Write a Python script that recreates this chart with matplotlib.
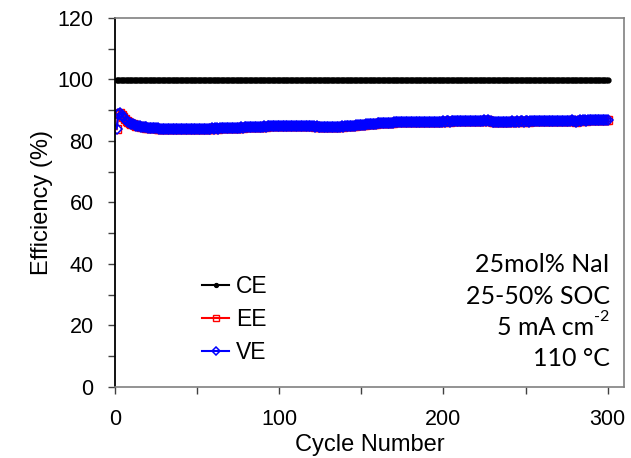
import matplotlib
matplotlib.use('Agg')
import matplotlib.pyplot as plt
from matplotlib.ticker import MultipleLocator

# cycle-by-cycle efficiencies (%)
cycles = list(range(1, 301))

ce = [
    99.9, 99.9, 99.9, 99.9, 99.9, 99.9, 99.9, 99.9, 99.9, 99.9,
    99.9, 99.9, 99.9, 99.9, 99.9, 99.9, 99.9, 99.9, 99.9, 99.9,
    99.9, 99.9, 99.9, 99.9, 99.9, 99.9, 99.9, 99.9, 99.9, 99.9,
    99.9, 99.9, 99.9, 99.9, 99.9, 99.9, 99.9, 99.9, 99.9, 99.9,
    99.9, 99.9, 99.9, 99.9, 99.9, 99.9, 99.9, 99.9, 99.9, 99.9,
    99.9, 99.9, 99.9, 99.9, 99.9, 99.9, 99.9, 99.9, 99.9, 99.9,
    99.9, 99.9, 99.9, 99.9, 99.9, 99.9, 99.9, 99.9, 99.9, 99.9,
    99.9, 99.9, 99.9, 99.9, 99.9, 99.9, 99.9, 99.9, 99.9, 99.9,
    99.9, 99.9, 99.9, 99.9, 99.9, 99.9, 99.9, 99.9, 99.9, 99.9,
    99.9, 99.9, 99.9, 99.9, 99.9, 99.9, 99.9, 99.9, 99.9, 99.9,
    99.9, 99.9, 99.9, 99.9, 99.9, 99.9, 99.9, 99.9, 99.9, 99.9,
    99.9, 99.9, 99.9, 99.9, 99.9, 99.9, 99.9, 99.9, 99.9, 99.9,
    99.9, 99.9, 99.9, 99.9, 99.9, 99.9, 99.9, 99.9, 99.9, 99.9,
    99.9, 99.9, 99.9, 99.9, 99.9, 99.9, 99.9, 99.9, 99.9, 99.9,
    99.9, 99.9, 99.9, 99.9, 99.9, 99.9, 99.9, 99.9, 99.9, 99.9,
    99.9, 99.9, 99.9, 99.9, 99.9, 99.9, 99.9, 99.9, 99.9, 99.9,
    99.9, 99.9, 99.9, 99.9, 99.9, 99.9, 99.9, 99.9, 99.9, 99.9,
    99.9, 99.9, 99.9, 99.9, 99.9, 99.9, 99.9, 99.9, 99.9, 99.9,
    99.9, 99.9, 99.9, 99.9, 99.9, 99.9, 99.9, 99.9, 99.9, 99.9,
    99.9, 99.9, 99.9, 99.9, 99.9, 99.9, 99.9, 99.9, 99.9, 99.9,
    99.9, 99.9, 99.9, 99.9, 99.9, 99.9, 99.9, 99.9, 99.9, 99.9,
    99.9, 99.9, 99.9, 99.9, 99.9, 99.9, 99.9, 99.9, 99.9, 99.9,
    99.9, 99.9, 99.9, 99.9, 99.9, 99.9, 99.9, 99.9, 99.9, 99.9,
    99.9, 99.9, 99.9, 99.9, 99.9, 99.9, 99.9, 99.9, 99.9, 99.9,
    99.9, 99.9, 99.9, 99.9, 99.9, 99.9, 99.9, 99.9, 99.9, 99.9,
    99.9, 99.9, 99.9, 99.9, 99.9, 99.9, 99.9, 99.9, 99.9, 99.9,
    99.9, 99.9, 99.9, 99.9, 99.9, 99.9, 99.9, 99.9, 99.9, 99.9,
    99.9, 99.9, 99.9, 99.9, 99.9, 99.9, 99.9, 99.9, 99.9, 99.9,
    99.9, 99.9, 99.9, 99.9, 99.9, 99.9, 99.9, 99.9, 99.9, 99.9,
    99.9, 99.9, 99.9, 99.9, 99.9, 99.9, 99.9, 99.9, 99.9, 99.9,
]

ve = [
    84.0, 88.8, 89.0, 88.4, 87.7, 87.1, 86.6, 86.2, 85.9, 85.6,
    85.4, 85.2, 85.0, 84.9, 84.7, 84.6, 84.5, 84.4, 84.4, 84.3,
    84.3, 84.2, 84.2, 84.1, 84.1, 84.1, 84.0, 84.0, 84.0, 84.0,
    84.0, 83.9, 84.0, 83.9, 83.9, 84.0, 83.9, 83.9, 83.9, 83.9,
    83.9, 83.8, 83.9, 83.9, 83.8, 83.9, 83.9, 83.9, 84.0, 83.9,
    83.9, 84.0, 84.0, 83.9, 84.0, 84.0, 84.0, 84.0, 84.1, 84.0,
    84.1, 84.1, 84.0, 84.1, 84.1, 84.2, 84.1, 84.2, 84.2, 84.2,
    84.2, 84.3, 84.2, 84.3, 84.3, 84.3, 84.4, 84.3, 84.4, 84.4,
    84.4, 84.5, 84.4, 84.5, 84.5, 84.6, 84.5, 84.6, 84.6, 84.6,
    84.7, 84.6, 84.7, 84.7, 84.8, 84.7, 84.8, 84.8, 84.8, 84.9,
    84.8, 84.9, 84.9, 84.8, 84.9, 84.9, 84.9, 84.8, 84.9, 84.9,
    84.8, 84.9, 84.8, 84.8, 84.9, 84.8, 84.8, 84.7, 84.8, 84.7,
    84.7, 84.6, 84.7, 84.6, 84.6, 84.5, 84.6, 84.5, 84.4, 84.5,
    84.4, 84.5, 84.4, 84.5, 84.5, 84.6, 84.6, 84.7, 84.6, 84.7,
    84.8, 84.8, 84.9, 84.9, 85.0, 85.0, 85.1, 85.1, 85.2, 85.2,
    85.3, 85.3, 85.4, 85.4, 85.5, 85.5, 85.5, 85.6, 85.6, 85.7,
    85.7, 85.7, 85.8, 85.8, 85.8, 85.9, 85.9, 85.9, 85.9, 86.0,
    86.0, 86.0, 86.0, 86.0, 86.1, 86.0, 86.1, 86.1, 86.1, 86.1,
    86.1, 86.2, 86.1, 86.2, 86.2, 86.2, 86.2, 86.2, 86.3, 86.2,
    86.3, 86.2, 86.3, 86.3, 86.3, 86.2, 86.3, 86.3, 86.3, 86.4,
    86.3, 86.4, 86.4, 86.3, 86.4, 86.4, 86.4, 86.5, 86.4, 86.4,
    86.5, 86.4, 86.5, 86.5, 86.5, 86.4, 86.5, 86.6, 86.5, 86.5,
    86.6, 86.5, 86.6, 86.6, 86.7, 86.6, 86.8, 86.6, 86.5, 86.3,
    86.2, 86.3, 86.2, 86.3, 86.3, 86.2, 86.3, 86.3, 86.2, 86.3,
    86.3, 86.4, 86.3, 86.3, 86.4, 86.3, 86.4, 86.4, 86.3, 86.4,
    86.4, 86.3, 86.4, 86.4, 86.5, 86.4, 86.4, 86.5, 86.4, 86.5,
    86.5, 86.4, 86.5, 86.5, 86.5, 86.6, 86.5, 86.5, 86.6, 86.5,
    86.6, 86.5, 86.6, 86.6, 86.5, 86.6, 86.6, 86.7, 86.6, 86.6,
    86.3, 86.6, 86.7, 86.6, 86.7, 86.7, 86.6, 86.7, 86.7, 86.8,
    86.7, 86.7, 86.8, 86.7, 86.8, 86.8, 86.7, 86.8, 86.8, 86.8,
]

ee = [
    83.8, 88.9, 89.1, 88.5, 87.7, 87.1, 86.6, 86.2, 85.9, 85.6,
    85.4, 85.2, 85.0, 84.9, 84.7, 84.6, 84.5, 84.4, 84.3, 84.3,
    84.3, 84.2, 84.2, 84.1, 84.1, 84.0, 84.0, 84.0, 84.0, 84.0,
    84.0, 83.9, 83.9, 83.9, 83.9, 84.0, 83.9, 83.9, 83.9, 83.9,
    83.9, 83.8, 83.9, 83.8, 83.8, 83.9, 83.9, 83.9, 83.9, 83.9,
    83.9, 84.0, 84.0, 83.9, 84.0, 84.0, 83.9, 84.0, 84.1, 84.0,
    84.1, 84.1, 84.0, 84.1, 84.1, 84.1, 84.1, 84.2, 84.2, 84.2,
    84.2, 84.3, 84.2, 84.3, 84.2, 84.3, 84.4, 84.3, 84.4, 84.4,
    84.4, 84.5, 84.4, 84.5, 84.5, 84.5, 84.5, 84.6, 84.6, 84.6,
    84.7, 84.6, 84.7, 84.7, 84.7, 84.7, 84.8, 84.8, 84.8, 84.8,
    84.8, 84.9, 84.9, 84.8, 84.9, 84.9, 84.8, 84.8, 84.9, 84.9,
    84.8, 84.9, 84.8, 84.8, 84.8, 84.8, 84.8, 84.7, 84.8, 84.7,
    84.7, 84.6, 84.7, 84.6, 84.6, 84.5, 84.6, 84.5, 84.4, 84.5,
    84.4, 84.5, 84.4, 84.5, 84.5, 84.6, 84.6, 84.7, 84.6, 84.7,
    84.8, 84.8, 84.9, 84.9, 85.0, 85.0, 85.1, 85.1, 85.1, 85.2,
    85.3, 85.3, 85.4, 85.4, 85.5, 85.5, 85.5, 85.6, 85.6, 85.7,
    85.7, 85.7, 85.8, 85.8, 85.8, 85.9, 85.9, 85.9, 85.9, 86.0,
    86.0, 86.0, 86.0, 86.0, 86.1, 86.0, 86.1, 86.1, 86.1, 86.1,
    86.1, 86.2, 86.1, 86.2, 86.2, 86.2, 86.2, 86.2, 86.3, 86.2,
    86.3, 86.2, 86.3, 86.3, 86.3, 86.2, 86.3, 86.3, 86.3, 86.4,
    86.3, 86.4, 86.4, 86.3, 86.4, 86.4, 86.4, 86.5, 86.4, 86.4,
    86.5, 86.4, 86.5, 86.5, 86.5, 86.4, 86.5, 86.6, 86.5, 86.5,
    86.6, 86.5, 86.6, 86.6, 86.7, 86.6, 86.9, 86.6, 86.5, 86.3,
    86.2, 86.3, 86.2, 86.3, 86.3, 86.2, 86.3, 86.3, 86.2, 86.3,
    86.3, 86.4, 86.3, 86.3, 86.4, 86.3, 86.4, 86.4, 86.3, 86.4,
    86.4, 86.3, 86.4, 86.4, 86.5, 86.4, 86.4, 86.5, 86.4, 86.5,
    86.5, 86.4, 86.5, 86.5, 86.5, 86.6, 86.5, 86.5, 86.6, 86.5,
    86.6, 86.5, 86.6, 86.6, 86.5, 86.6, 86.6, 86.7, 86.6, 86.6,
    86.2, 86.6, 86.7, 86.6, 86.7, 86.7, 86.6, 86.7, 86.7, 86.8,
    86.7, 86.7, 86.8, 86.7, 86.8, 86.8, 86.7, 86.8, 86.8, 86.9,
]

# (main text, superscript)
notes = [('25mol% NaI', ''), ('25-50% SOC', ''), ('5 mA cm', '-2'), ('110 °C', '')]

plt.rcParams['font.family'] = ['Liberation Sans', 'DejaVu Sans']

fig = plt.figure(figsize=(6.31, 4.58), dpi=100)
ax = fig.add_axes([0.1823, 0.155, 0.8067, 0.806])

ax.plot(cycles, ce, color='black', lw=1.5, marker='o', ms=3.5, label='CE')
ax.plot(cycles, ee, color='red', lw=1.5, marker='s', ms=6, mfc='none', mew=1, label='EE')
ax.plot(cycles, ve, color='blue', lw=1.5, marker='D', ms=5.5, mfc='none', mew=1.1, label='VE')

ax.set_xlim(0, 310)
ax.set_ylim(0, 120)
ax.xaxis.set_major_locator(MultipleLocator(100))
ax.xaxis.set_minor_locator(MultipleLocator(50))
ax.yaxis.set_major_locator(MultipleLocator(20))
ax.yaxis.set_minor_locator(MultipleLocator(10))
ax.tick_params(which='both', direction='out', colors='#404040', labelcolor='black',
               labelsize=15.5, length=5, width=1)
ax.tick_params(which='major', pad=10.5)

for side in ['top', 'right', 'bottom']:
    ax.spines[side].set_color('#808080')
    ax.spines[side].set_linewidth(1.2)
ax.spines['left'].set_color('black')
ax.spines['left'].set_linewidth(1.3)

ax.set_xlabel('Cycle Number', fontsize=17, labelpad=3)
ax.set_ylabel('Efficiency (%)', fontsize=17, labelpad=3)

ax.legend(loc='upper left', bbox_to_anchor=(0.13, 0.36), frameon=False,
          fontsize=16.5, handlelength=1.2, handletextpad=0.3, labelspacing=0.45,
          markerscale=0.8)

for i, (s, sup) in enumerate(notes):
    y = 0.331 - i * 0.0845
    if sup:
        t = ax.text(0.941, y, s, transform=ax.transAxes, ha='right', va='center',
                    fontsize=18, family='Lato')
        ax.annotate(sup, xy=(1.0, 0.62), xycoords=t, ha='left', va='bottom',
                    fontsize=11.5, family='Lato')
    else:
        ax.text(0.972, y, s, transform=ax.transAxes, ha='right', va='center',
                fontsize=18, family='Lato')

fig.savefig('out.png', dpi=100)
